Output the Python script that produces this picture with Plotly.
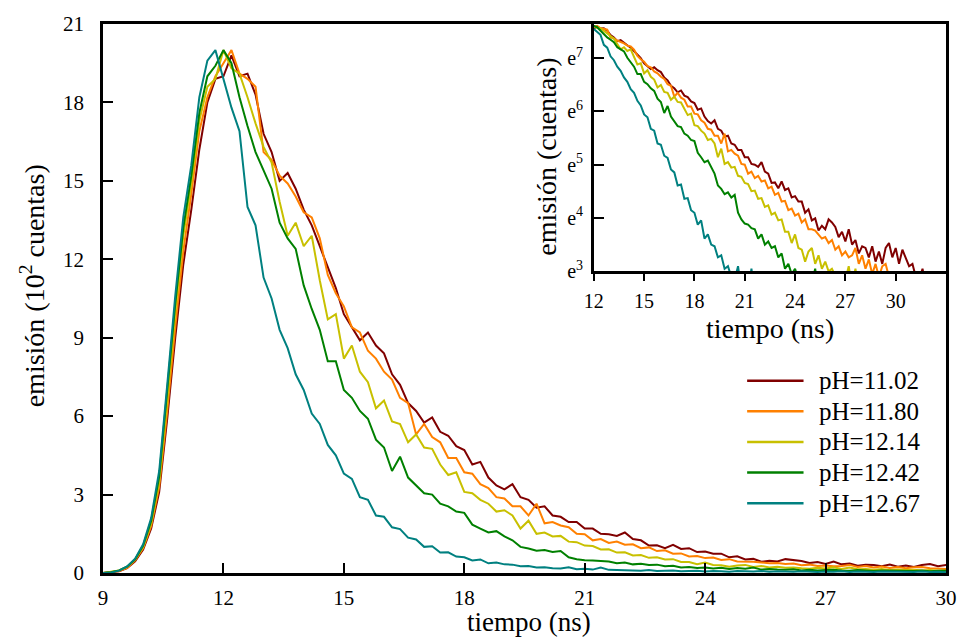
import numpy as np
import plotly.graph_objects as go

# time grid (ns), 0.2 ns bins from 9.0 to 32.0
time_ns = np.round(9.0 + 0.2 * np.arange(116), 1)

labels = ["pH=11.02", "pH=11.80", "pH=12.14", "pH=12.42", "pH=12.67"]
colors = ["#800000", "#ff8000", "#c8c000", "#008000", "#008080"]

# emission in units of 10^2 counts
ph_1102 = [
    0.0, 0.03, 0.07, 0.19, 0.45, 0.9, 1.7, 3.1, 5.9, 9.0,
    11.8, 13.9, 16.2, 18.0, 18.9, 19.0, 19.8, 19.0, 19.1, 18.3,
    16.8, 16.1, 15.0, 15.3, 14.7, 13.9, 13.3, 12.5, 11.7, 10.9,
    9.9, 9.4, 8.9, 9.2, 8.7, 8.4, 7.6, 7.2, 6.5, 6.2,
    5.75, 5.95, 5.4, 5.25, 4.85, 4.7, 4.15, 4.25, 3.65, 3.35,
    3.2, 3.4, 2.9, 2.8, 2.5, 2.55, 2.2, 2.15, 1.95, 1.95,
    1.7, 1.7, 1.5, 1.48, 1.42, 1.55, 1.3, 1.25, 1.05, 1.06,
    0.95, 1.08, 0.92, 0.95, 0.8, 0.82, 0.74, 0.74, 0.6, 0.64,
    0.52, 0.54, 0.43, 0.47, 0.44, 0.53, 0.5, 0.46, 0.38, 0.42,
    0.35, 0.44, 0.33, 0.36, 0.28, 0.32, 0.31, 0.26, 0.32, 0.24,
    0.29, 0.23, 0.31, 0.34, 0.26, 0.31, 0.23, 0.3, 0.26, 0.22,
    0.23, 0.18, 0.17, 0.21, 0.15, 0.16,
]
ph_1180 = [
    0.0, 0.03, 0.08, 0.20, 0.48, 0.95, 1.8, 3.3, 6.2, 9.4,
    12.3, 14.5, 16.9, 18.2, 19.0, 19.5, 20.0, 19.1, 18.9, 18.6,
    16.1, 15.8, 15.2, 14.9, 14.4, 13.8, 13.6, 12.8, 11.4, 10.7,
    10.2, 9.4, 9.2, 8.5, 8.2, 7.7, 7.4, 6.7, 6.5, 5.3,
    5.7, 5.2, 5.0, 4.4, 4.4, 3.85, 3.8, 3.4, 3.25, 2.9,
    2.85, 2.55, 2.55, 2.2, 2.65, 1.9, 1.95, 1.82, 1.75, 1.5,
    1.48, 1.25, 1.3, 1.15, 1.2, 1.08, 1.1, 0.95, 0.98, 0.84,
    0.87, 0.74, 0.75, 0.63, 0.65, 0.57, 0.59, 0.5, 0.53, 0.44,
    0.44, 0.43, 0.4, 0.37, 0.38, 0.34, 0.36, 0.3, 0.32, 0.27,
    0.29, 0.26, 0.27, 0.31, 0.23, 0.27, 0.21, 0.25, 0.19, 0.23,
    0.18, 0.22, 0.23, 0.18, 0.17, 0.15, 0.16, 0.13, 0.15, 0.12,
    0.13, 0.12, 0.11, 0.12, 0.10, 0.11,
]
ph_1214 = [
    0.0, 0.04, 0.10, 0.23, 0.52, 1.0, 1.9, 3.5, 6.6, 10.0,
    12.9, 14.9, 17.3, 18.6, 18.9, 20.0, 19.3, 19.1, 18.2, 17.2,
    16.3, 15.7, 14.2, 12.9, 13.4, 12.5, 12.9, 11.2, 9.7, 9.9,
    8.2, 8.7, 7.7, 7.3, 6.3, 6.6, 5.8, 5.7, 5.0, 5.3,
    4.8, 4.75, 4.15, 3.75, 3.85, 3.1, 3.05, 2.8, 2.65, 2.35,
    2.4, 2.2, 1.7, 2.0, 1.5, 1.55, 1.4, 1.42, 1.2, 1.18,
    1.05, 1.03, 0.9, 0.91, 0.78, 0.79, 0.67, 0.69, 0.58, 0.6,
    0.52, 0.53, 0.42, 0.42, 0.34, 0.4, 0.31, 0.3, 0.24, 0.29,
    0.31, 0.23, 0.27, 0.21, 0.24, 0.2, 0.21, 0.18, 0.16, 0.2,
    0.17, 0.22, 0.15, 0.21, 0.14, 0.15, 0.12, 0.15, 0.11, 0.13,
    0.11, 0.12, 0.10, 0.11, 0.09, 0.10, 0.09, 0.08, 0.09, 0.08,
    0.07, 0.08, 0.07, 0.06, 0.07, 0.06,
]
ph_1242 = [
    0.0, 0.03, 0.10, 0.24, 0.52, 1.05, 2.0, 3.7, 7.0, 10.3,
    13.2, 15.2, 17.6, 19.0, 19.4, 20.0, 19.5, 18.2, 17.1, 16.1,
    15.4, 14.7, 13.4, 12.8, 12.4, 11.0, 10.1, 9.3, 8.1, 8.1,
    7.0, 6.7, 6.2, 5.9, 5.1, 4.8, 3.9, 4.45, 3.65, 3.35,
    3.05, 3.0, 2.65, 2.55, 2.35, 2.3, 1.85, 1.7, 1.55, 1.6,
    1.4, 1.25, 1.0, 0.94, 0.85, 0.88, 0.8, 0.84, 0.6, 0.53,
    0.49, 0.48, 0.45, 0.44, 0.37, 0.4, 0.33, 0.35, 0.31, 0.32,
    0.26, 0.28, 0.21, 0.23, 0.19, 0.21, 0.17, 0.2, 0.15, 0.19,
    0.16, 0.21, 0.13, 0.15, 0.13, 0.12, 0.14, 0.10, 0.12, 0.10,
    0.11, 0.12, 0.10, 0.09, 0.11, 0.10, 0.08, 0.10, 0.09, 0.08,
    0.09, 0.08, 0.10, 0.07, 0.09, 0.08, 0.07, 0.08, 0.06, 0.07,
    0.07, 0.06, 0.07, 0.05, 0.06, 0.05,
]
ph_1267 = [
    0.0, 0.02, 0.09, 0.25, 0.55, 1.1, 2.1, 3.9, 7.2, 10.6,
    13.6, 15.6, 18.2, 19.6, 20.0, 18.9, 17.8, 16.9, 14.0, 13.3,
    11.3, 10.5, 9.3, 8.6, 7.6, 7.0, 6.1, 5.7, 4.9, 4.5,
    3.8, 3.6, 2.9, 2.8, 2.2, 2.15, 1.75, 1.68, 1.35, 1.28,
    1.0, 1.02, 0.78, 0.79, 0.63, 0.6, 0.48, 0.52, 0.37, 0.4,
    0.33, 0.32, 0.26, 0.27, 0.21, 0.22, 0.18, 0.17, 0.22, 0.14,
    0.16, 0.13, 0.21, 0.12, 0.11, 0.12, 0.10, 0.09, 0.11, 0.08,
    0.09, 0.10, 0.07, 0.08, 0.09, 0.06, 0.08, 0.07, 0.05, 0.08,
    0.07, 0.06, 0.08, 0.05, 0.07, 0.06, 0.05, 0.07, 0.06, 0.04,
    0.06, 0.05, 0.07, 0.04, 0.06, 0.05, 0.04, 0.06, 0.05, 0.04,
    0.05, 0.04, 0.06, 0.04, 0.05, 0.03, 0.05, 0.04, 0.03, 0.05,
    0.04, 0.03, 0.04, 0.03, 0.04, 0.03,
]
series = [ph_1102, ph_1180, ph_1214, ph_1242, ph_1267]

x_ticks = [9, 12, 15, 18, 21, 24, 27, 30]
y_ticks = [0, 3, 6, 9, 12, 15, 18, 21]
inset_x_ticks = [12, 15, 18, 21, 24, 27, 30]
inset_y_ticks = [3, 4, 5, 6, 7]
inset_y_text = ["e<sup>%d</sup>" % k for k in inset_y_ticks]

FONT = "Liberation Serif"
fig = go.Figure()

for vals, name, col in zip(series, labels, colors):
    fig.add_trace(go.Scatter(x=time_ns, y=vals, mode="lines", name=name,
                             line=dict(color=col, width=2), showlegend=False,
                             xaxis="x", yaxis="y"))

for vals, name, col in zip(series, labels, colors):
    counts = np.array(vals, dtype=float) * 100.0
    logc = np.where(counts > 0, np.log(np.where(counts > 0, counts, 1.0)), np.nan)
    fig.add_trace(go.Scatter(x=time_ns, y=logc, mode="lines", name=name,
                             line=dict(color=col, width=2), showlegend=False,
                             xaxis="x2", yaxis="y2"))

# legend drawn as line samples + labels (layout positions in paper units)
leg_x0, leg_x1, leg_tx = 0.7641, 0.831, 0.8474
leg_top, leg_dy = 0.3503, 0.0558
shapes = []
leg_annots = []
for i, (name, col) in enumerate(zip(labels, colors)):
    yy = leg_top - i * leg_dy
    shapes.append(dict(type="line", xref="paper", yref="paper", x0=leg_x0, x1=leg_x1,
                       y0=yy, y1=yy, line=dict(color=col, width=2.5)))
    leg_annots.append(dict(text=name, x=leg_tx, y=yy, xref="paper", yref="paper",
                           showarrow=False, xanchor="left", yanchor="middle",
                           font=dict(family=FONT, size=25)))

axis_common = dict(showline=True, linecolor="black", linewidth=2.5, mirror=True,
                   showgrid=False, zeroline=False, tickcolor="black", tickwidth=2,
                   color="black")

fig.update_layout(
    width=969, height=639,
    margin=dict(l=103, r=14, t=22, b=66),
    paper_bgcolor="white", plot_bgcolor="white",
    font=dict(family=FONT, color="black", size=21),
    showlegend=False,
    xaxis=dict(domain=[0, 1], range=[9, 30], tickvals=x_ticks, ticks="inside",
               ticklen=10, tickfont=dict(size=21), ticklabelstandoff=4,
               anchor="y", **axis_common),
    yaxis=dict(domain=[0, 1], range=[0, 21], tickvals=y_ticks, ticks="inside",
               ticklen=10, tickfont=dict(size=21), ticklabelstandoff=12,
               anchor="x", **axis_common),
    xaxis2=dict(domain=[0.5822, 1.0], range=[12, 33], tickvals=inset_x_ticks,
                ticks="outside", ticklen=7, tickfont=dict(size=20),
                ticklabelstandoff=3, anchor="y2", **axis_common),
    yaxis2=dict(domain=[0.5499, 1.0], range=[3, 7.636], tickvals=inset_y_ticks,
                ticktext=inset_y_text, ticks="inside", ticklen=10,
                tickfont=dict(size=20), ticklabelstandoff=4, anchor="x2",
                **axis_common),
    shapes=shapes,
    annotations=[
        dict(text="tiempo (ns)", x=0.5053, y=-0.089, xref="paper", yref="paper",
             showarrow=False, xanchor="center", yanchor="middle",
             font=dict(family=FONT, size=27)),
        dict(text="emisión (10<sup>2</sup> cuentas)", x=-0.0839, y=0.5227,
             xref="paper", yref="paper", showarrow=False, textangle=-90,
             xanchor="center", yanchor="middle", font=dict(family=FONT, size=28)),
        dict(text="emisión (cuentas)", x=0.5258, y=0.7586, xref="paper",
             yref="paper", showarrow=False, textangle=-90, xanchor="center",
             yanchor="middle", font=dict(family=FONT, size=28)),
        dict(text="tiempo (ns)", x=0.7917, y=0.4446, xref="paper", yref="paper",
             showarrow=False, xanchor="center", yanchor="middle",
             font=dict(family=FONT, size=28)),
    ] + leg_annots,
)

fig.write_html("out.html")
